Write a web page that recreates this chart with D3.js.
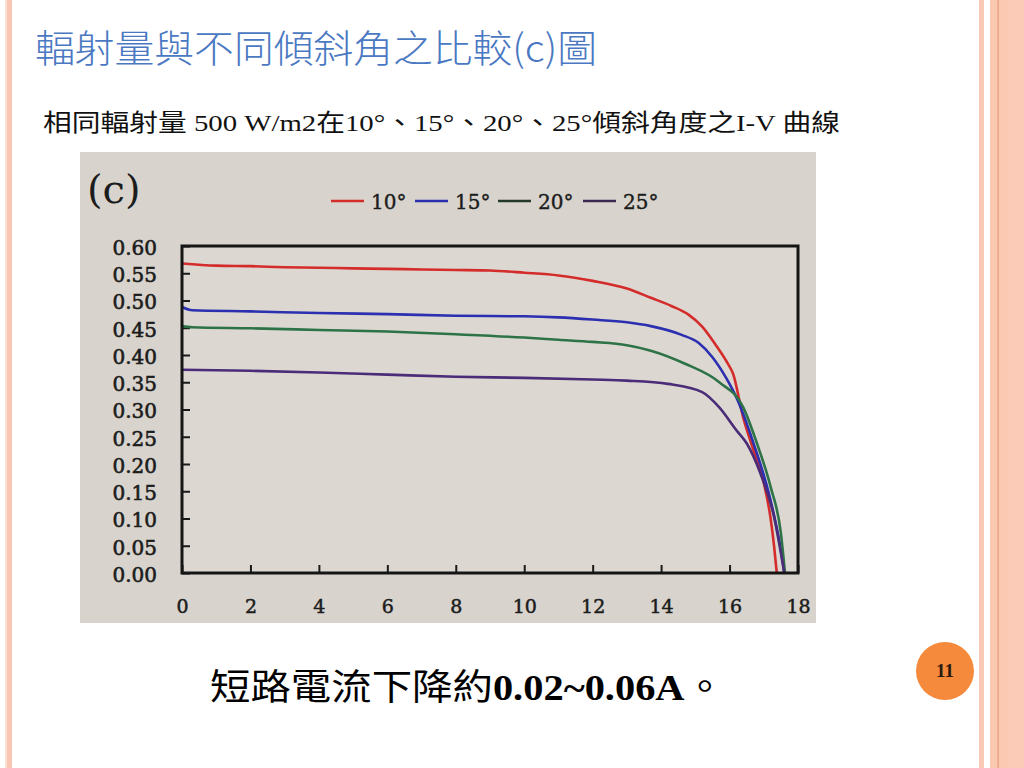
<!DOCTYPE html>
<html><head><meta charset="utf-8">
<script src="https://cdn.jsdelivr.net/npm/d3@7"></script>
<style>
html,body{margin:0;padding:0;background:#fff;}
svg{display:block;}
</style></head>
<body>
<svg id="slide" width="1024" height="768"></svg>
<script>
// ---- data ----
const titleText = "輻射量與不同傾斜角之比較(c)圖";
const subtitleText = "相同輻射量 500 W/m2在10°、15°、20°、25°傾斜角度之I-V 曲線";
const noteParts = [["短路電流下降約", false], ["0.02~0.06A", true], ["。", false]];
const pageNumber = "11";
const seriesNames = ["10°", "15°", "20°", "25°"];
const seriesColors = ["#d42b2b", "#2b2fb0", "#2e7348", "#4b2c78"];
const legendColors = ["#d42b2b", "#2b2fb0", "#24382c", "#3a2850"];
const volt10 = [0,1,2,3,4,5,6,7,8,9,10,11,12,13,13.7,14.3,14.8,15.2,15.6,15.95,16.1,16.4,16.7,17.0,17.2,17.3,17.38];
const cur10  = [0.568,0.564,0.563,0.561,0.560,0.559,0.558,0.557,0.556,0.555,0.551,0.546,0.536,0.522,0.505,0.490,0.474,0.452,0.418,0.384,0.366,0.285,0.225,0.165,0.100,0.050,0.0];
const volt15 = [0,0.3,2,4,6,8,10,11,12,13,13.7,14.6,15.1,15.5,15.9,16.2,16.7,17.2,17.5,17.6];
const cur15  = [0.488,0.482,0.480,0.477,0.475,0.472,0.471,0.469,0.465,0.460,0.453,0.437,0.422,0.396,0.358,0.322,0.238,0.133,0.042,0.0];
const volt20 = [0,0.3,2,4,6,8,10,11,12,13,13.7,14.7,15.7,16.4,16.8,17.2,17.5,17.62];
const cur20  = [0.453,0.451,0.449,0.446,0.443,0.438,0.432,0.428,0.424,0.418,0.408,0.384,0.350,0.304,0.238,0.158,0.073,0.0];
const volt25 = [0,2,4,6,8,10,12,13,14.2,15.2,15.7,16.2,16.5,16.9,17.3,17.6];
const cur25  = [0.373,0.371,0.368,0.364,0.360,0.358,0.355,0.353,0.347,0.332,0.304,0.262,0.238,0.183,0.103,0.0];
const xTicks = [0,2,4,6,8,10,12,14,16,18];
const yTicks = [0,0.05,0.10,0.15,0.20,0.25,0.30,0.35,0.40,0.45,0.50,0.55,0.60];

const seriesX = [volt10, volt15, volt20, volt25];
const seriesY = [cur10, cur15, cur20, cur25];

const svg = d3.select("#slide");

// ---- slide decoration ----
svg.append("rect").attr("x",0).attr("y",0).attr("width",1024).attr("height",768).attr("fill","#ffffff");
svg.append("rect").attr("x",5).attr("y",0).attr("width",7).attr("height",768).attr("fill","#f9c6b3");
svg.append("rect").attr("x",5).attr("y",0).attr("width",2).attr("height",768).attr("fill","#fbe0d4");
svg.append("rect").attr("x",979).attr("y",0).attr("width",5).attr("height",768).attr("fill","#f9c9b6");
svg.append("rect").attr("x",990).attr("y",0).attr("width",34).attr("height",768).attr("fill","#fbc8b2");
svg.append("rect").attr("x",1008).attr("y",0).attr("width",16).attr("height",768).attr("fill","#fccbb7");
svg.append("rect").attr("x",997.5).attr("y",0).attr("width",1.2).attr("height",768).attr("fill","#e59a78");

// title
svg.append("text").attr("x",35).attr("y",62)
  .attr("font-family","'Noto Sans CJK TC','Noto Sans CJK SC',sans-serif")
  .attr("font-weight",300).attr("font-size",38).attr("fill","#4a78c2")
  .attr("textLength",562).attr("lengthAdjust","spacingAndGlyphs")
  .text(titleText);

// subtitle
svg.append("text").attr("x",43).attr("y",131)
  .attr("font-family","'Liberation Serif','Noto Sans CJK TC',serif")
  .attr("font-size",24).attr("fill","#111")
  .attr("textLength",797).attr("lengthAdjust","spacingAndGlyphs")
  .text(subtitleText);

// bottom note
const note = svg.append("text").attr("x",210).attr("y",700)
  .attr("font-family","'Liberation Serif','Noto Sans CJK TC',serif")
  .attr("font-size",36).attr("fill","#000")
  .attr("textLength",515).attr("lengthAdjust","spacingAndGlyphs");
noteParts.forEach(p=>{
  note.append("tspan").attr("font-weight", p[1] ? "bold" : "normal").text(p[0]);
});

// page number
svg.append("circle").attr("cx",945).attr("cy",671).attr("r",29).attr("fill","#f68a3c");
svg.append("text").attr("x",945).attr("y",677).attr("text-anchor","middle")
  .attr("font-family","'Liberation Serif',serif").attr("font-weight","bold")
  .attr("font-size",19).attr("fill","#2a1a10").text(pageNumber);

// ---- chart photo area ----
const photo = {x:80, y:152, w:736, h:471};
svg.append("rect").attr("x",photo.x).attr("y",photo.y).attr("width",photo.w).attr("height",photo.h).attr("fill","#d8d4cd");

const plot = {left:182, right:798, top:246, bottom:573};
const x = d3.scaleLinear().domain([0,18]).range([plot.left, plot.right]);
const y = d3.scaleLinear().domain([0,0.6]).range([plot.bottom, plot.top]);

svg.append("rect").attr("x",plot.left).attr("y",plot.top)
  .attr("width",plot.right-plot.left).attr("height",plot.bottom-plot.top)
  .attr("fill","#dcd8d1");

const chartFont = "'DejaVu Serif','Liberation Serif',serif";

// (c) label
svg.append("text").attr("x",87).attr("y",203)
  .attr("font-family",chartFont).attr("font-size",40).attr("fill","#1c1c1c").text("(c)");

// axes
const yAxis = d3.axisLeft(y).tickValues(yTicks).tickFormat(d3.format(".2f"))
  .tickSizeInner(-8).tickSizeOuter(0).tickPadding(25);
const gy = svg.append("g").attr("transform",`translate(${plot.left},2)`).call(yAxis);
gy.select(".domain").remove();
gy.selectAll("line").attr("stroke","#1a1a1a").attr("stroke-width",2).attr("transform","translate(0,-2)");
gy.selectAll("text").attr("font-family",chartFont).attr("font-size",20)
  .attr("fill","#1c1c1c").attr("stroke","#1c1c1c").attr("stroke-width",0.6);

const xAxis = d3.axisBottom(x).tickValues(xTicks).tickFormat(d3.format("d"))
  .tickSizeInner(-8).tickSizeOuter(0).tickPadding(27);
const gx = svg.append("g").attr("transform",`translate(0,${plot.bottom})`).call(xAxis);
gx.select(".domain").remove();
gx.selectAll("line").attr("stroke","#1a1a1a").attr("stroke-width",2);
gx.selectAll("text").attr("font-family",chartFont).attr("font-size",19)
  .attr("fill","#1c1c1c").attr("stroke","#1c1c1c").attr("stroke-width",0.5);

// lines
const line = d3.line().x(d=>x(d[0])).y(d=>y(d[1])).curve(d3.curveMonotoneX);
seriesNames.forEach((name,i)=>{
  const pts = seriesX[i].map((v,j)=>[v, seriesY[i][j]]);
  svg.append("path").datum(pts).attr("d",line)
    .attr("fill","none").attr("stroke",seriesColors[i]).attr("stroke-width",2.6)
    .attr("stroke-linejoin","round");
});

// box
svg.append("rect").attr("x",plot.left).attr("y",plot.top)
  .attr("width",plot.right-plot.left).attr("height",plot.bottom-plot.top)
  .attr("fill","none").attr("stroke","#151515").attr("stroke-width",3);

// legend
const legendX = [331, 415, 498, 583];
const lg = svg.append("g");
seriesNames.forEach((name,i)=>{
  lg.append("line").attr("x1",legendX[i]).attr("x2",legendX[i]+33)
    .attr("y1",201).attr("y2",201).attr("stroke",legendColors[i]).attr("stroke-width",2.5);
  lg.append("text").attr("x",legendX[i]+40).attr("y",209)
    .attr("font-family",chartFont).attr("font-size",20).attr("fill","#1c1c1c")
    .attr("stroke","#1c1c1c").attr("stroke-width",0.4).text(name);
});
</script>
</body></html>
